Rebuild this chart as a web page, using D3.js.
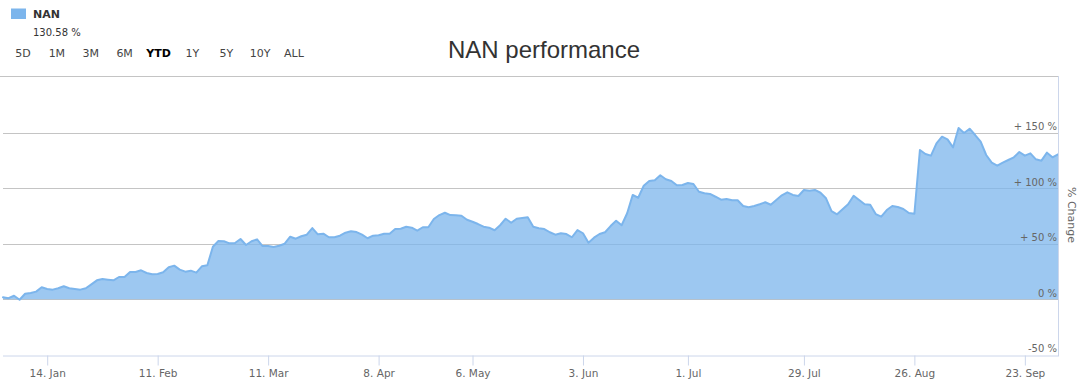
<!DOCTYPE html>
<html><head><meta charset="utf-8">
<script src="https://cdn.jsdelivr.net/npm/d3@7"></script>
<style>
body{margin:0;background:#fff}
svg{display:block}
text{font-family:"DejaVu Sans",Verdana,sans-serif}
text.title{font-family:"Liberation Sans",Arial,sans-serif}
</style>
</head><body>
<svg id="chart" width="1086" height="392"></svg>
<script>
// ---------------- data ----------------
const seriesName = "NAN";
const lastValueLabel = "130.58 %";
const titleText = "NAN performance";
const axisTitle = "% Change";

// % change since start of year, one value per trading session
const changePct = [
  1.8, 1.0, 3.2, -0.4, 5.0, 5.7, 6.9, 10.8, 9.3, 8.7, 9.9, 11.7, 9.9, 9.3, 8.7, 9.9,
  13.5, 17.1, 18.3, 17.7, 17.1, 20.1, 20.1, 24.6, 24.6, 26.1, 23.7, 22.5, 22.8, 24.3,
  28.8, 30.3, 26.7, 24.9, 25.8, 24.0, 29.7, 30.6, 47.4, 52.5, 52.3, 50.4, 50.7, 54.3,
  48.9, 52.3, 54.0, 48.0,
  48.0, 47.1, 48.3, 50.1, 56.4, 54.6, 56.8, 58.2, 64.2, 58.5, 59.1, 55.9, 55.9, 57.3,
  60.0, 61.3, 60.6, 58.2, 55.0, 57.3, 57.7, 59.1, 59.1, 63.3, 63.6, 65.4, 64.5, 61.8,
  64.9, 64.9, 72.3, 75.9, 78.0, 75.9, 75.7, 75.3, 71.7, 69.9, 67.8, 65.4, 64.5, 62.2,
  66.7, 72.6, 69.0, 72.6, 73.2,
  73.9, 65.4, 64.0, 63.3, 60.4, 58.2, 59.5, 58.8, 55.9, 62.4, 59.5, 51.0, 55.5, 58.8,
  60.4, 66.0, 70.8, 66.7, 77.5, 94.0, 91.5, 102.3, 106.6, 107.2, 111.7, 108.1, 106.6,
  102.7, 103.0, 104.8, 103.9, 96.9, 95.5, 94.9, 92.4, 89.7, 90.4, 89.2, 89.2, 84.0,
  82.9, 84.0, 85.6, 87.4, 85.2, 89.5, 93.7, 96.4,
  94.0, 93.1, 98.5, 97.8, 98.5, 96.0, 91.0, 79.5, 76.6, 81.1, 85.6, 93.3, 89.5, 85.6,
  85.2, 76.8, 74.4, 80.4, 84.0, 83.2, 81.4, 77.7, 77.1, 134.5, 130.9, 129.4, 140.5,
  146.5, 144.1, 136.9, 154.3, 149.8, 153.7, 148.0, 142.0, 130.0, 123.1, 120.4, 123.1,
  125.5, 127.9, 132.7, 129.4, 131.5, 126.1, 124.9, 132.1, 127.9, 130.58
];

// session index of each date tick
const xTickIndex  = [8, 28, 48, 68, 85, 105, 124, 145, 165, 185];
const xTickLabels = ["14. Jan", "11. Feb", "11. Mar", "8. Apr", "6. May",
                     "3. Jun", "1. Jul", "29. Jul", "26. Aug", "23. Sep"];

const yDomain     = [-50, 200];
const yGridValues = [0, 50, 100, 150];
const yTickValues = [-50, 0, 50, 100, 150];
const yTickLabels = ["-50 %", "0 %", "+ 50 %", "+ 100 %", "+ 150 %"];

const rangeButtons  = ["5D", "1M", "3M", "6M", "YTD", "1Y", "5Y", "10Y", "ALL"];
const selectedRange = "YTD";

// ---------------- layout ----------------
const W = 1086, H = 392;
const plot = {left: 3, right: 1058, top: 76, bottom: 355};
const color = "#7cb5ec";

const svg = d3.select("#chart");
const x = d3.scaleLinear().domain([0, changePct.length - 1]).range([plot.left, plot.right]);
const y = d3.scaleLinear().domain(yDomain).range([354.8, 77.3]);
const crisp = v => Math.round(v) + 0.5;

// grid lines
const grid = svg.append("g");
grid.selectAll("line").data(yGridValues).join("line")
  .attr("x1", plot.left).attr("x2", plot.right)
  .attr("y1", d => crisp(y(d))).attr("y2", d => crisp(y(d)))
  .attr("stroke", "#c4c4c4").attr("stroke-width", 1);
// top frame line
grid.append("line")
  .attr("x1", 0).attr("x2", plot.right)
  .attr("y1", plot.top + 0.5).attr("y2", plot.top + 0.5)
  .attr("stroke", "#c4c4c4");

// area + line
const area = d3.area()
  .x((d, i) => x(i)).y0(y(0)).y1(d => y(d));
const line = d3.line()
  .x((d, i) => x(i)).y(d => y(d));

svg.append("path").datum(changePct)
  .attr("d", area).attr("fill", color).attr("fill-opacity", 0.75);
svg.append("path").datum(changePct)
  .attr("d", line).attr("fill", "none").attr("stroke", color)
  .attr("stroke-width", 2).attr("stroke-linejoin", "round").attr("stroke-linecap", "round");

// right frame line
svg.append("line")
  .attr("x1", plot.right + 0.5).attr("x2", plot.right + 0.5)
  .attr("y1", plot.top).attr("y2", plot.bottom + 1)
  .attr("stroke", "#ccd6eb");

// x axis
const xAxis = d3.axisBottom(x)
  .tickValues(xTickIndex)
  .tickFormat((d, i) => xTickLabels[i])
  .tickSize(10).tickSizeOuter(0).tickPadding(4);
const gx = svg.append("g").attr("transform", `translate(0,${plot.bottom + 0.5})`).call(xAxis);
gx.select(".domain").attr("stroke", "#ccd6eb").attr("d", `M${plot.left},0.5H${plot.right + 1}`);
gx.selectAll(".tick line").attr("stroke", "#ccd6eb");
gx.selectAll(".tick text")
  .attr("fill", "#666").attr("font-size", "10.5px");

// y labels (right, inside plot)
svg.append("g").selectAll("text").data(yTickValues).join("text")
  .attr("x", plot.right - 1)
  .attr("y", d => y(d) - 2.5)
  .attr("text-anchor", "end")
  .attr("font-size", "10px").attr("fill", "#666")
  .text((d, i) => yTickLabels[i]);

// axis title
svg.append("text")
  .attr("transform", `translate(1068,215) rotate(90)`)
  .attr("text-anchor", "middle")
  .attr("font-size", "11px").attr("fill", "#666")
  .text(axisTitle);

// title
svg.append("text").attr("class", "title")
  .attr("x", 544).attr("y", 58)
  .attr("text-anchor", "middle")
  .attr("font-size", "24px").attr("fill", "#333")
  .text(titleText);

// legend
svg.append("rect").attr("x", 11).attr("y", 8.5).attr("width", 15).attr("height", 10.5).attr("fill", color);
svg.append("text").attr("x", 33).attr("y", 18.3)
  .attr("font-size", "11px").attr("font-weight", "bold").attr("fill", "#333")
  .text(seriesName);
svg.append("text").attr("x", 33).attr("y", 36)
  .attr("font-size", "10px").attr("fill", "#333")
  .text(lastValueLabel);

// range selector
const bx = d3.scalePoint().domain(rangeButtons).range([23, 294]);
svg.append("g").selectAll("text").data(rangeButtons).join("text")
  .attr("x", d => bx(d)).attr("y", 56.8)
  .attr("text-anchor", "middle")
  .attr("font-size", "11px")
  .attr("font-weight", d => d === selectedRange ? "bold" : "normal")
  .attr("fill", d => d === selectedRange ? "#000" : "#444")
  .text(d => d);
</script>
</body></html>
